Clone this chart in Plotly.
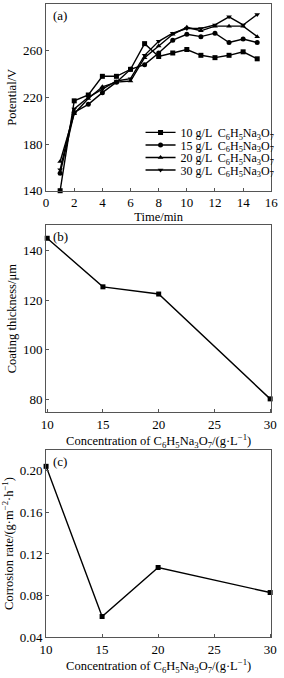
import plotly.graph_objects as go

# ---------------- data ----------------
time_min = [1, 2, 3, 4, 5, 6, 7, 8, 9, 10, 11, 12, 13, 14, 15]
pot_10 = [140, 217, 222, 238, 238, 244, 266, 255, 258, 261, 256, 254, 256, 259, 253]
pot_15 = [155, 207, 214, 224, 233, 244, 248, 258, 269, 274, 272, 275, 267, 270, 267]
pot_20 = [165, 206, 219, 229, 233, 234, 254, 264, 274, 280, 277, 281, 281, 281, 272]
pot_30 = [158, 210, 220, 227, 234, 236, 256, 268, 275, 279, 279, 282, 289, 282, 291]

conc = [10, 15, 20, 30]
thickness = [144.8, 125.3, 122.4, 80.3]
corrosion = [0.204, 0.060, 0.107, 0.083]

series_names = ["10 g/L", "15 g/L", "20 g/L", "30 g/L"]
formula = "C<sub>6</sub>H<sub>5</sub>Na<sub>3</sub>O<sub>7</sub>"
symbols = ["square", "circle", "triangle-up", "triangle-down"]

xa_ticks = [0, 2, 4, 6, 8, 10, 12, 14, 16]
ya_ticks = [140, 180, 220, 260, 300]
xb_ticks = [10, 15, 20, 25, 30]
yb_ticks = [80, 100, 120, 140]
yc_ticks = [0.04, 0.08, 0.12, 0.16, 0.20]

FONT = "Liberation Serif, Times New Roman, serif"
W, H = 284, 678

fig = go.Figure()

legend_ids = ["legend", "legend2", "legend3", "legend4"]
for name, vals, sym, lg in zip(series_names, [pot_10, pot_15, pot_20, pot_30], symbols, legend_ids):
    fig.add_trace(go.Scatter(
        x=time_min, y=vals, mode="lines+markers", name=f"{name}  {formula}",
        line=dict(color="black", width=1.4),
        marker=dict(symbol=sym, size=5, color="black"),
        xaxis="x", yaxis="y", cliponaxis=False, legend=lg))

fig.add_trace(go.Scatter(
    x=conc, y=thickness, mode="lines+markers", showlegend=False,
    line=dict(color="black", width=1.4),
    marker=dict(symbol="square", size=5, color="black"),
    xaxis="x2", yaxis="y2", cliponaxis=False))

fig.add_trace(go.Scatter(
    x=conc, y=corrosion, mode="lines+markers", showlegend=False,
    line=dict(color="black", width=1.4),
    marker=dict(symbol="square", size=5, color="black"),
    xaxis="x3", yaxis="y3", cliponaxis=False))


def dom(top, bottom):
    return [1 - bottom / H, 1 - top / H]


xd = [42 / W, 278 / W]
axis_common = dict(showline=True, linecolor="#555", linewidth=1, mirror=True,
                   ticks="inside", ticklen=3, tickcolor="#555",
                   showgrid=False, zeroline=False,
                   tickfont=dict(family=FONT, size=13, color="black"))
title_font = dict(family=FONT, size=12.5, color="black")

legend_layout = {}
for i, lg in enumerate(legend_ids):
    legend_layout[lg] = dict(
        x=141 / W, xanchor="left", y=1 - (134 + 12.7 * i) / H, yanchor="middle",
        bgcolor="rgba(255,255,255,0)", borderwidth=0,
        font=dict(family=FONT, size=12, color="black"),
        itemwidth=30)

fig.update_layout(
    width=W, height=H, margin=dict(l=0, r=0, t=0, b=0),
    paper_bgcolor="white", plot_bgcolor="white",
    font=dict(family=FONT, color="black"),
    xaxis=dict(domain=xd, anchor="y", range=[0, 16], tickvals=xa_ticks,
               title=dict(text="Time/min", font=title_font, standoff=1), **axis_common),
    yaxis=dict(domain=dom(4, 193), anchor="x", range=[140, 300], tickvals=ya_ticks,
               title=dict(text="Potential/V", font=title_font, standoff=3), **axis_common),
    xaxis2=dict(domain=xd, anchor="y2", range=[9.9, 30.1], tickvals=xb_ticks,
                title=dict(text=f"Concentration of {formula}/(g·L<sup>−1</sup>)",
                           font=title_font, standoff=1), **axis_common),
    yaxis2=dict(domain=dom(228, 417), anchor="x2", range=[75, 150], tickvals=yb_ticks,
                title=dict(text="Coating thickness/μm", font=title_font, standoff=3),
                **axis_common),
    xaxis3=dict(domain=xd, anchor="y3", range=[10, 30.1], tickvals=xb_ticks,
                title=dict(text=f"Concentration of {formula}/(g·L<sup>−1</sup>)",
                           font=title_font, standoff=1), **axis_common),
    yaxis3=dict(domain=dom(455, 645), anchor="x3", range=[0.04, 0.22], tickvals=yc_ticks,
                tickformat=".2f",
                title=dict(text="Corrosion rate/(g·m<sup>−2</sup>·h<sup>−1</sup>)",
                           font=title_font, standoff=3), **axis_common),
    **legend_layout,
)

for lbl, xref, yref in [("(a)", "x domain", "y domain"),
                        ("(b)", "x2 domain", "y2 domain"),
                        ("(c)", "x3 domain", "y3 domain")]:
    fig.add_annotation(text=lbl, x=0.02, y=0.99, xref=xref, yref=yref,
                       xanchor="left", yanchor="top", showarrow=False,
                       font=dict(family=FONT, size=13, color="black"))

fig.write_html("out.html")
